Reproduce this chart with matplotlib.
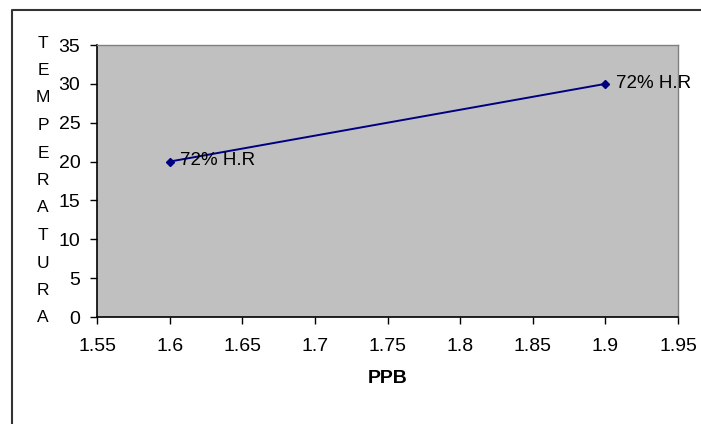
import numpy as np
import matplotlib
matplotlib.use("Agg")
import matplotlib.pyplot as plt
from matplotlib.lines import Line2D

plt.rcParams['font.family'] = ['Liberation Sans', 'DejaVu Sans']

# humidity series: concentration (PPB) vs temperature
ppb = [1.6, 1.9]
temperatura = [20, 30]
point_labels = ["72% H.R", "72% H.R"]
x_ticks = [1.55, 1.6, 1.65, 1.7, 1.75, 1.8, 1.85, 1.9, 1.95]
x_tick_labels = ["1.55", "1.6", "1.65", "1.7", "1.75", "1.8", "1.85", "1.9", "1.95"]
y_ticks = [0, 5, 10, 15, 20, 25, 30, 35]
y_title = "TEMPERATURA"
x_title = "PPB"

W, H = 701, 424
fig = plt.figure(figsize=(W / 100, H / 100), dpi=100)
fig.patch.set_facecolor("white")

left, right, top, bottom = 97, 678, 45, 317
ax = fig.add_axes([left / W, 1 - bottom / H, (right - left) / W, (bottom - top) / H])
ax.set_facecolor("#C0C0C0")

ax.plot(ppb, temperatura, color="#000080", linewidth=1.4, marker="D",
        markersize=4.5, markerfacecolor="#000080", markeredgecolor="#000080",
        zorder=3)

# labels to the right of each point
for x, y, lab in zip(ppb, temperatura, point_labels):
    ax.annotate(lab, (x, y), xytext=(7.5, 0.5), textcoords="offset points",
                ha="left", va="center", fontsize=13.5, color="black",
                zorder=4, annotation_clip=False)

ax.set_xlim(1.55, 1.95)
ax.set_ylim(0, 35)
ax.set_xticks(x_ticks)
ax.set_xticklabels(x_tick_labels)
ax.set_yticks(y_ticks)
ax.tick_params(direction="out", length=5, width=1, labelsize=14,
               colors="black")
ax.tick_params(axis="x", pad=10)
ax.tick_params(axis="y", pad=7)

for side in ["top", "right"]:
    ax.spines[side].set_color("#808080")
    ax.spines[side].set_linewidth(1)
for side in ["left", "bottom"]:
    ax.spines[side].set_color("black")
    ax.spines[side].set_linewidth(1.2)

ax.set_xlabel(x_title, fontsize=14, fontweight="bold", labelpad=11)

# vertical stacked axis title
ys = np.linspace(1 - 43 / H, 1 - 318 / H, len(y_title))
for ch, yy in zip(y_title, ys):
    fig.text(43 / W, yy, ch, ha="center", va="center", fontsize=12.5)

# outer chart border (left and top edges)
fig.add_artist(Line2D([12 / W, 12 / W, 1], [0, 1 - 10 / H, 1 - 10 / H],
                      transform=fig.transFigure, color="#333333", linewidth=1.5))

fig.savefig("out.png", dpi=100)
